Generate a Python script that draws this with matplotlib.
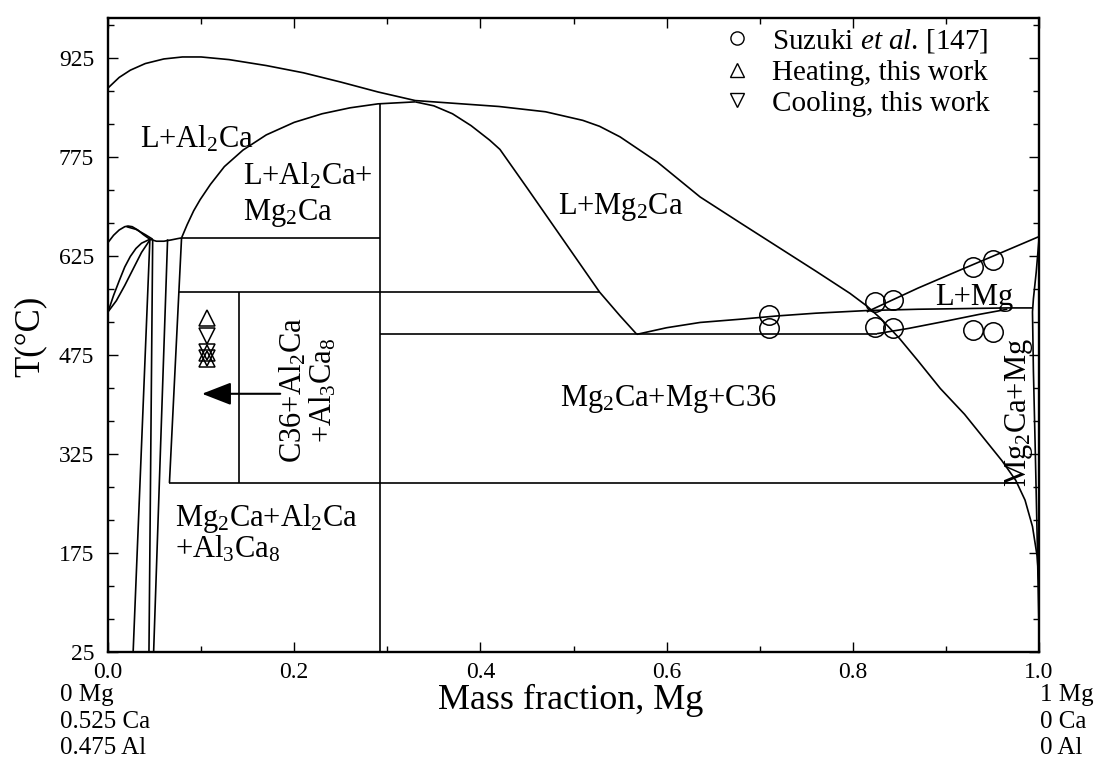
import matplotlib
matplotlib.use('Agg')
import matplotlib.pyplot as plt
from matplotlib.lines import Line2D

plt.rcParams['font.family'] = ['Liberation Serif', 'DejaVu Serif']
plt.rcParams['mathtext.fontset'] = 'custom'
plt.rcParams['mathtext.rm'] = 'Liberation Serif'
plt.rcParams['mathtext.it'] = 'Liberation Serif:italic'

# ---------------- data (x = mass fraction Mg, T in deg C) ----------------
liq_x = [0, 0.012, 0.024, 0.04, 0.06, 0.08, 0.10, 0.13, 0.17, 0.21, 0.25, 0.29, 0.33, 0.37, 0.42,
         0.47, 0.51, 0.528, 0.55, 0.59, 0.636, 0.68, 0.72, 0.76, 0.797, 0.815, 0.83, 0.85, 0.87,
         0.894, 0.92, 0.94, 0.96, 0.975, 0.985, 0.993, 0.998, 1.0]
liq_T = [879, 895, 906, 916, 923, 926, 926, 922, 913, 902, 888, 873, 860, 856, 851,
         843, 830, 821, 805, 767, 714, 674, 638, 602, 568, 549, 530, 500, 466,
         424, 385, 350, 315, 285, 255, 215, 170, 130]

p_x = [0.079, 0.085, 0.092, 0.099, 0.11, 0.125, 0.145, 0.17, 0.20, 0.23, 0.26, 0.29, 0.33]
p_T = [652, 672, 693, 710, 733, 760, 785, 808, 827, 840, 849, 855, 858]

q_x = [0.33, 0.35, 0.37, 0.39, 0.41, 0.421, 0.45, 0.49, 0.528, 0.55, 0.568]
q_T = [858, 852, 840, 822, 800, 786, 728, 647, 570, 534, 506]

b_x = [0.568, 0.60, 0.636, 0.68, 0.72, 0.76, 0.815, 0.87, 0.92, 0.966, 0.993]
b_T = [506, 516, 524, 529, 534, 538, 542, 544, 545, 546, 546]

d_x = [0.826, 0.86, 0.90, 0.935, 0.966]
d_T = [507, 515, 526, 536, 544]

e_x = [0.815, 0.87, 0.918, 0.96, 1.0]
e_T = [540, 576, 605, 630, 654]

s_x = [1.0, 0.997, 0.994, 0.993, 0.994, 0.996, 0.998, 1.0]
s_T = [650, 600, 560, 540, 450, 330, 200, 60]

b1_x = [0, 0.006, 0.012, 0.018, 0.0215, 0.026, 0.032, 0.038, 0.045, 0.052, 0.06, 0.068, 0.075, 0.079]
b1_T = [645, 656, 664, 669, 670, 669, 664, 657, 650, 647, 647, 649, 651, 652]
b2_x = [0.02, 0.03, 0.04, 0.048]
b2_T = [669, 665, 657, 650]

l1_x = [0, 0.006, 0.012, 0.018, 0.024, 0.03, 0.036, 0.042, 0.045]
l1_T = [540, 565, 587, 608, 624, 636, 644, 648, 650]
l2_x = [0, 0.009, 0.018, 0.027, 0.036, 0.045]
l2_T = [540, 557, 580, 605, 630, 649]

v1_x = [0.045, 0.027]; v1_T = [650, 25]
v2_x = [0.048, 0.044]; v2_T = [650, 25]
v3_x = [0.064, 0.049]; v3_T = [650, 25]
v4_x = [0.079, 0.066]; v4_T = [652, 281]

vmid_x = [0.292, 0.292]; vmid_T = [25, 857]
vc36_x = [0.141, 0.141]; vc36_T = [281, 570]

h652_x = [0.079, 0.292]; h652_T = [652, 652]
h570_x = [0.0761, 0.528]; h570_T = [570, 570]
h506_x = [0.292, 0.826]; h506_T = [506, 506]
h281_x = [0.066, 0.976]; h281_T = [281, 281]

suzuki_x = [0.71, 0.71, 0.824, 0.824, 0.843, 0.843, 0.929, 0.929, 0.951, 0.951]
suzuki_T = [536, 516, 555, 517, 558, 515, 608, 512, 618, 509]

heat_x = [0.106, 0.106, 0.106]
heat_T = [530, 478, 468]
cool_x = [0.106, 0.106, 0.106]
cool_T = [503, 480, 470]

arrow_start = (0.185, 416)
arrow_end = (0.101, 416)

xticks = [0.0, 0.2, 0.4, 0.6, 0.8, 1.0]
xticklabels = ['0.0', '0.2', '0.4', '0.6', '0.8', '1.0']
yticks = [25, 175, 325, 475, 625, 775, 925]
yticklabels = ['25', '175', '325', '475', '625', '775', '925']

# ---------------- figure ----------------
W, H = 1105, 777
fig = plt.figure(figsize=(W / 100, H / 100), dpi=100)
ax = fig.add_axes([108 / W, 1 - 652 / H, (1039 - 108) / W, (652 - 18) / H])

lw = 1.2
curves = [(liq_x, liq_T), (p_x, p_T), (q_x, q_T), (b_x, b_T), (d_x, d_T), (e_x, e_T),
          (s_x, s_T), (b1_x, b1_T), (b2_x, b2_T), (l1_x, l1_T), (l2_x, l2_T),
          (v1_x, v1_T), (v2_x, v2_T), (v3_x, v3_T), (v4_x, v4_T),
          (vmid_x, vmid_T), (vc36_x, vc36_T),
          (h652_x, h652_T), (h570_x, h570_T), (h506_x, h506_T), (h281_x, h281_T)]
for cx, cy in curves:
    ax.plot(cx, cy, color='black', lw=lw, solid_capstyle='butt')

ax.plot(suzuki_x, suzuki_T, 'o', ms=14, mfc='none', mec='black', mew=1.1, ls='none')
ax.plot(heat_x, heat_T, '^', ms=12, mfc='none', mec='black', mew=1.1, ls='none')
ax.plot(cool_x, cool_T, 'v', ms=12, mfc='none', mec='black', mew=1.1, ls='none')

ax.annotate('', xy=arrow_end, xytext=arrow_start,
            arrowprops=dict(arrowstyle='-|>,head_length=0.9,head_width=0.35', color='black',
                            lw=1.5, mutation_scale=20, shrinkA=0, shrinkB=0))

ax.set_xlim(0, 1.0)
ax.set_ylim(25, 985)
ax.set_xticks(xticks)
ax.set_xticklabels(xticklabels)
ax.set_xticks([0.1, 0.3, 0.5, 0.7, 0.9], minor=True)
ax.set_yticks(yticks)
ax.set_yticklabels(yticklabels)
ax.set_yticks([75, 125, 225, 275, 375, 425, 525, 575, 675, 725, 825, 875, 975], minor=True)
ax.tick_params(which='both', direction='in', top=True, right=True, width=1.0)
ax.tick_params(which='major', length=7)
ax.tick_params(which='minor', length=4)
ax.tick_params(axis='x', labelsize=17, pad=7)
ax.tick_params(axis='y', labelsize=17, pad=10)
for sp in ax.spines.values():
    sp.set_linewidth(1.7)

fs = 22
ax.text(0.034, 801, 'L+Al$_2$Ca', fontsize=fs, ha='left', va='center')
ax.text(0.145, 746, 'L+Al$_2$Ca+', fontsize=fs, ha='left', va='center')
ax.text(0.145, 689, 'Mg$_2$Ca', fontsize=fs, ha='left', va='center')
ax.text(0.551, 699, 'L+Mg$_2$Ca', fontsize=fs, ha='center', va='center')
ax.text(0.888, 562, 'L+Mg', fontsize=fs, ha='left', va='center')
ax.text(0.215, 421, 'C36+Al$_2$Ca\n+Al$_3$Ca$_8$', fontsize=fs, ha='center', va='center',
        rotation=90, multialignment='center', linespacing=1.0)
ax.text(0.602, 408, 'Mg$_2$Ca+Mg+C36', fontsize=fs, ha='center', va='center')
ax.text(0.072, 227, 'Mg$_2$Ca+Al$_2$Ca', fontsize=fs, ha='left', va='center')
ax.text(0.072, 180, '+Al$_3$Ca$_8$', fontsize=fs, ha='left', va='center')
ax.text(0.979, 388, 'Mg$_2$Ca+Mg', fontsize=fs, ha='center', va='center', rotation=90)

handles = [Line2D([], [], marker='o', ls='none', ms=9.5, mfc='none', mec='black', mew=1.0),
           Line2D([], [], marker='^', ls='none', ms=10, mfc='none', mec='black', mew=1.0),
           Line2D([], [], marker='v', ls='none', ms=10, mfc='none', mec='black', mew=1.0)]
labels = ['Suzuki $\\mathit{et\\ al}$. [147]', 'Heating, this work', 'Cooling, this work']
ax.legend(handles, labels, loc='upper left', frameon=False, fontsize=21,
          bbox_to_anchor=((722.5 - 108) / 931, (652 - 27) / 634),
          borderpad=0, borderaxespad=0, handletextpad=0.7, labelspacing=0.15,
          handlelength=1.0)

fig.text(571 / W, 1 - 700 / H, 'Mass fraction, Mg', fontsize=26, ha='center', va='center')
fig.text(30 / W, 1 - 336 / H, 'T(°C)', fontsize=25, ha='center', va='center', rotation=90)

for i, s in enumerate(['0 Mg', '0.525 Ca', '0.475 Al']):
    fig.text(60 / W, 1 - (695 + 26.5 * i) / H, s, fontsize=18, ha='left', va='center')
for i, s in enumerate(['1 Mg', '0 Ca', '0 Al']):
    fig.text(1040 / W, 1 - (695 + 26.5 * i) / H, s, fontsize=18, ha='left', va='center')

fig.savefig('out.png', dpi=100)
